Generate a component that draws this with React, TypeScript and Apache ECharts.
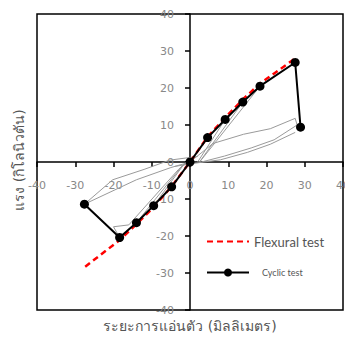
import React, { useEffect, useRef } from "react";
import * as echarts from "echarts";

// Envelope of the cyclic test (deflection mm, force kN)
const cyclicEnvelope: [number, number][] = [
  [-27.6, -11.4], [-18.4, -20.4], [-14.0, -16.4], [-9.5, -11.8], [-4.8, -6.7],
  [0, 0], [4.6, 6.6], [9.2, 11.5], [13.8, 16.2], [18.3, 20.5], [27.5, 26.9], [28.9, 9.4],
];

// Flexural (monotonic) test
const flexural: [number, number][] = [
  [-27.4, -28.3], [-18.5, -21.2], [-14.0, -16.8], [-9.5, -12.2], [-4.8, -6.6],
  [0, 0], [4.6, 6.8], [9.2, 12.0], [13.8, 16.9], [18.3, 21.2], [27.5, 28.0],
];

// Hysteresis loops (gray)
const loopPos1: [number, number][] = [
  [0, 0], [6, 5], [14, 7.5], [21, 9], [27.5, 11.8], [28, 10], [22, 6], [16, 3.8], [9, 1.6], [3, 0],
];
const loopPos2: [number, number][] = [
  [27.5, 8], [21, 4.8], [15, 2.6], [8, 0.6], [0, -0.5], [-4, -1.2],
];
const loopNeg1: [number, number][] = [
  [2, 1.5], [-5.3, 0.5], [-12, -2], [-20.2, -4.8], [-27.6, -11.4], [-14, -4.8], [-5, -1.5], [0, 0],
];
const unloadP1: [number, number][] = [[18.3, 20.5], [7, 5.8], [2.5, 0]];
const unloadP2: [number, number][] = [[13.8, 16.2], [5.3, 4.1], [2.5, 0]];
const unloadP3: [number, number][] = [[9.2, 11.5], [2, 0]];
const unloadN1: [number, number][] = [[-18.4, -20.4], [-20, -17.5], [-16, -17], [-3, -2], [-1, 0]];
const unloadN2: [number, number][] = [[-14, -16.4], [-2, -1], [0, 0]];
const unloadN3: [number, number][] = [[-9.5, -11.8], [-1.5, -0.5]];

const grayLoops = [loopPos1, loopPos2, loopNeg1, unloadP1, unloadP2, unloadP3, unloadN1, unloadN2, unloadN3];

const xTitle = "ระยะการแอ่นตัว (มิลลิเมตร)";
const yTitle = "แรง (กิโลนิวตัน)";

export default function App() {
  const ref = useRef<HTMLDivElement>(null);
  useEffect(() => {
    if (!ref.current) return;
    const chart = echarts.init(ref.current, undefined, { renderer: "svg", width: 345, height: 337 });
    const font = "'DejaVu Sans', Tahoma, sans-serif";
    const legendFont = "Lato, 'Open Sans', sans-serif";
    chart.setOption({
      animation: false,
      grid: {
        left: 37, top: 14, right: 2, bottom: 27,
        outerBoundsMode: "none", containLabel: false,
        show: true, borderColor: "#000", borderWidth: 1.5, backgroundColor: "transparent",
      },
      xAxis: {
        type: "value", min: -40, max: 40, interval: 10, position: "bottom", offset: -148,
        axisLine: { onZero: false, lineStyle: { color: "#000", width: 1.5 } },
        axisTick: { show: true, length: 5, lineStyle: { color: "#000", width: 1.5 } },
        axisLabel: { color: "#888", fontSize: 11, fontFamily: font, margin: 18 },
        splitLine: { show: false },
      },
      yAxis: {
        type: "value", min: -40, max: 40, interval: 10, position: "left", offset: -153,
        axisLine: { onZero: false, lineStyle: { color: "#000", width: 1.5 } },
        axisTick: { show: true, length: 5, lineStyle: { color: "#000", width: 1.5 } },
        axisLabel: { color: "#888", fontSize: 11, fontFamily: font, margin: 16 },
        splitLine: { show: false },
      },
      legend: {
        data: [
          { name: "Flexural test", itemStyle: { opacity: 0 } },
          { name: "Cyclic test" },
        ],
        orient: "vertical", left: 206, top: 235, padding: 0, itemWidth: 42, itemHeight: 10, itemGap: 20,
        textStyle: {
          fontFamily: legendFont, color: "#555",
          rich: {
            b: { fontSize: 13, color: "#555", fontFamily: legendFont },
            s: { fontSize: 9, color: "#555", fontFamily: legendFont, padding: [0, 0, 0, 8] },
          },
        },
        formatter: (n: string) => (n === "Cyclic test" ? "{s|" + n + "}" : "{b|" + n + "}"),
      },
      series: [
        ...grayLoops.map((d) => ({
          type: "line", data: d, symbol: "none", silent: true,
          lineStyle: { color: "#9a9a9a", width: 1 }, z: 1,
        })),
        {
          name: "Flexural test", type: "line", data: flexural, symbol: "none",
          lineStyle: { color: "#ff0000", width: 2.5, type: [6, 4] }, itemStyle: { color: "#ff0000" }, z: 2,
        },
        {
          name: "Cyclic test", type: "line", data: cyclicEnvelope, symbol: "circle", symbolSize: 9,
          lineStyle: { color: "#000", width: 2 }, itemStyle: { color: "#000" }, z: 3,
        },
      ],
      graphic: [
        {
          type: "text", x: 190, y: 326,
          style: { text: xTitle, fontSize: 14, fill: "#555", align: "center", verticalAlign: "middle", fontFamily: font },
        },
        {
          type: "group", x: 19, y: 160,
          children: [
            {
              type: "text", rotation: Math.PI / 2,
              style: { text: yTitle, fontSize: 14, fill: "#555", align: "center", verticalAlign: "middle", fontFamily: font },
            },
          ],
        },
      ],
    });
    return () => chart.dispose();
  }, []);
  return <div ref={ref} style={{ width: 345, height: 337, position: "absolute", left: 0, top: 0 }} />;
}
